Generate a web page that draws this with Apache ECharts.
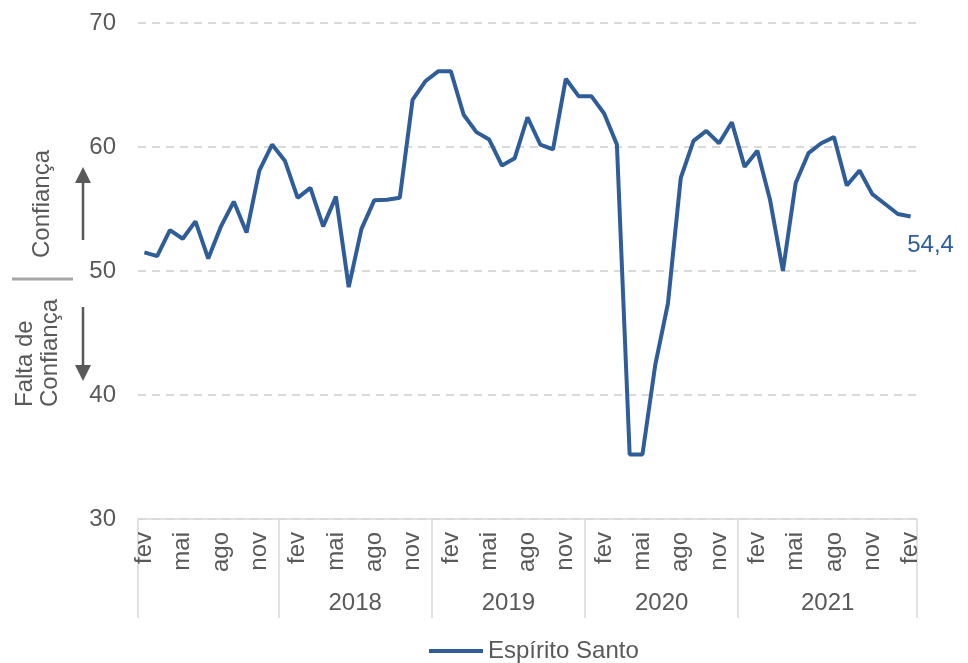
<!DOCTYPE html>
<html>
<head>
<meta charset="utf-8">
<title>Espírito Santo</title>
<script src="https://cdn.jsdelivr.net/npm/echarts/dist/echarts.min.js"></script>
<style>
  html, body { margin: 0; padding: 0; background: #fff; }
  #main { width: 968px; height: 663px; }
</style>
</head>
<body>
<div id="main"></div>
<script>
// meses (fev/2017 a fev/2022)
const meses = [
  'fev','mar','abr','mai','jun','jul','ago','set','out','nov','dez',
  'jan','fev','mar','abr','mai','jun','jul','ago','set','out','nov','dez',
  'jan','fev','mar','abr','mai','jun','jul','ago','set','out','nov','dez',
  'jan','fev','mar','abr','mai','jun','jul','ago','set','out','nov','dez',
  'jan','fev','mar','abr','mai','jun','jul','ago','set','out','nov','dez','jan','fev'
]
// grupos de anos no eixo (rótulo e índice inicial)
const anos = ['', '2018', '2019', '2020', '2021']
const anosInicio = [0, 11, 23, 35, 47]

const valores = [
  51.5, 51.2, 53.3, 52.6, 54.0, 51.0, 53.6, 55.6, 53.1, 58.1, 60.2,
  58.9, 55.9, 56.7, 53.6, 56.0, 48.7, 53.4, 55.7, 55.75, 55.9, 63.8, 65.3,
  66.1, 66.1, 62.6, 61.2, 60.6, 58.5, 59.1, 62.4, 60.2, 59.8, 65.5, 64.1,
  64.1, 62.7, 60.2, 35.2, 35.2, 42.4, 47.4, 57.5, 60.5, 61.3, 60.3, 62.0,
  58.4, 59.7, 55.7, 50.0, 57.1, 59.5, 60.3, 60.8, 56.9, 58.1, 56.2, 55.4, 54.6, 54.4
]
const yTicks = [30, 40, 50, 60, 70]

const fonte = 'Liberation Sans, Arial, sans-serif'
const cinza = '#595959'
const azul = '#2f5d99'
const tam = 24

// índice onde fica o rótulo do ano (meio do grupo)
const anoLabelIdx = {}
anosInicio.forEach((ini, i) => {
  const fim = i < anosInicio.length - 1 ? anosInicio[i + 1] - 1 : meses.length - 1
  if (anos[i]) anoLabelIdx[Math.floor((ini + fim) / 2)] = anos[i]
})

const serieDados = valores.map((v, i) => {
  if (i === valores.length - 1) {
    return {
      value: v,
      label: {
        show: true,
        position: 'bottom',
        distance: 4,
        offset: [20, 13],
        color: azul,
        fontSize: tam,
        fontFamily: fonte,
        formatter: p => String(p.value).replace('.', ',')
      }
    }
  }
  return v
})

const myChart = echarts.init(document.getElementById('main'))
const option = {
  animation: false,
  textStyle: { fontFamily: fonte },
  grid: { left: 138, right: 51, top: 23, bottom: 144, containLabel: false },
  legend: {
    data: ['Espírito Santo'],
    left: 429,
    top: 639,
    padding: 0,
    icon: 'rect',
    itemWidth: 54,
    itemHeight: 4,
    textStyle: { color: cinza, fontSize: tam, fontFamily: fonte }
  },
  xAxis: [
    {
      type: 'category',
      data: meses,
      boundaryGap: true,
      axisLine: { show: true, lineStyle: { color: '#d9d9d9', width: 1.5 } },
      axisTick: { show: false },
      axisLabel: {
        interval: 2,
        rotate: 90,
        margin: 13,
        color: cinza,
        fontSize: tam,
        fontFamily: fonte
      }
    },
    {
      type: 'category',
      data: meses,
      position: 'bottom',
      boundaryGap: true,
      axisLine: { show: false },
      axisTick: {
        show: true,
        length: 99,
        interval: idx => anosInicio.includes(idx),
        lineStyle: { color: '#d9d9d9', width: 1.5 }
      },
      axisLabel: {
        interval: idx => anoLabelIdx[idx] !== undefined,
        formatter: (val, idx) => anoLabelIdx[idx] || '',
        margin: 72,
        padding: [0, 0, 0, 13],
        color: cinza,
        fontSize: tam,
        fontFamily: fonte
      }
    }
  ],
  yAxis: {
    type: 'value',
    min: yTicks[0],
    max: yTicks[yTicks.length - 1],
    interval: 10,
    axisLine: { show: false },
    axisTick: { show: false },
    axisLabel: { color: cinza, fontSize: tam, margin: 22, fontFamily: fonte },
    splitLine: { lineStyle: { color: '#d9d9d9', type: [8, 6], width: 2 } }
  },
  series: [
    {
      name: 'Espírito Santo',
      type: 'line',
      data: serieDados,
      symbol: 'circle',
      symbolSize: 0,
      showSymbol: true,
      lineStyle: { color: azul, width: 4 },
      itemStyle: { color: azul }
    }
  ],
  graphic: [
    // divisória em 50
    { type: 'line', shape: { x1: 12, y1: 279, x2: 73, y2: 279 }, style: { stroke: '#a6a6a6', lineWidth: 3 } },
    // seta para cima
    { type: 'line', shape: { x1: 83, y1: 240, x2: 83, y2: 180 }, style: { stroke: cinza, lineWidth: 2.5 } },
    { type: 'polygon', shape: { points: [[75, 183], [91, 183], [83, 167]] }, style: { fill: cinza } },
    // seta para baixo
    { type: 'line', shape: { x1: 83, y1: 307, x2: 83, y2: 368 }, style: { stroke: cinza, lineWidth: 2.5 } },
    { type: 'polygon', shape: { points: [[75, 365], [91, 365], [83, 381]] }, style: { fill: cinza } },
    {
      type: 'text', x: 42, y: 204, rotation: Math.PI / 2,
      style: { text: 'Confiança', fill: cinza, font: tam + 'px ' + fonte, textAlign: 'center', textVerticalAlign: 'middle' }
    },
    {
      type: 'text', x: 25, y: 407, rotation: Math.PI / 2,
      style: { text: 'Falta de', fill: cinza, font: tam + 'px ' + fonte, textAlign: 'left', textVerticalAlign: 'middle' }
    },
    {
      type: 'text', x: 50, y: 407, rotation: Math.PI / 2,
      style: { text: 'Confiança', fill: cinza, font: tam + 'px ' + fonte, textAlign: 'left', textVerticalAlign: 'middle' }
    }
  ]
}
myChart.setOption(option)
window.onresize = () => {
  myChart.resize()
}
</script>
</body>
</html>
